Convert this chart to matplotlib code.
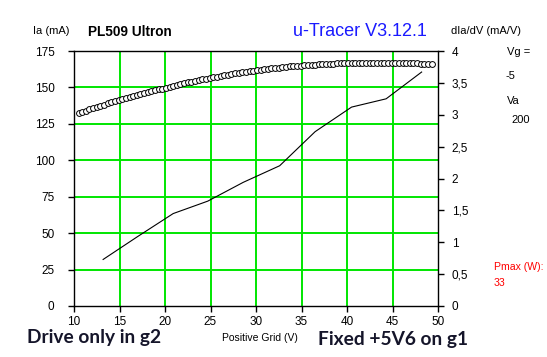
import matplotlib
matplotlib.use("Agg")
import matplotlib.pyplot as plt
from matplotlib.ticker import FixedLocator, FuncFormatter

# ---- data ----
grid_v = [10.5, 10.9, 11.3, 11.7, 12.1, 12.5, 12.9, 13.3, 13.7, 14.1, 14.5, 14.9,
          15.3, 15.7, 16.1, 16.5, 16.9, 17.3, 17.7, 18.1, 18.5, 18.9, 19.3, 19.7,
          20.1, 20.5, 20.9, 21.3, 21.7, 22.1, 22.5, 22.9, 23.3, 23.7, 24.1, 24.5,
          24.9, 25.3, 25.7, 26.1, 26.5, 26.9, 27.3, 27.7, 28.1, 28.5, 28.9, 29.3,
          29.7, 30.1, 30.5, 30.9, 31.3, 31.7, 32.1, 32.5, 32.9, 33.3, 33.7, 34.1,
          34.5, 34.9, 35.3, 35.7, 36.1, 36.5, 36.9, 37.3, 37.7, 38.1, 38.5, 38.9,
          39.3, 39.7, 40.1, 40.5, 40.9, 41.3, 41.7, 42.1, 42.5, 42.9, 43.3, 43.7,
          44.1, 44.5, 44.9, 45.3, 45.7, 46.1, 46.5, 46.9, 47.3, 47.7, 48.1, 48.5,
          48.9, 49.3]
ia_ma = [132.3, 133.2, 134.1, 135.0, 135.8, 136.6, 137.4, 138.2, 139.0, 139.8, 140.6, 141.3,
         142.0, 142.7, 143.4, 144.0, 144.7, 145.3, 146.0, 146.6, 147.3, 147.9, 148.6, 149.2,
         149.9, 150.5, 151.1, 151.7, 152.3, 152.8, 153.4, 153.9, 154.5, 155.0, 155.5, 156.0,
         156.5, 157.0, 157.5, 157.9, 158.4, 158.8, 159.2, 159.6, 160.0, 160.4, 160.8, 161.2,
         161.5, 161.9, 162.2, 162.5, 162.8, 163.1, 163.4, 163.6, 163.9, 164.1, 164.4, 164.6,
         164.8, 165.0, 165.2, 165.4, 165.6, 165.7, 165.9, 166.0, 166.1, 166.3, 166.4, 166.5,
         166.6, 166.7, 166.8, 166.8, 166.9, 166.9, 167.0, 167.0, 167.0, 167.1, 167.1, 167.1,
         167.1, 167.0, 167.0, 167.0, 166.9, 166.9, 166.8, 166.7, 166.6, 166.5, 166.4, 166.3,
         166.1, 166.0]

gm_v = [13.2, 17.0, 20.9, 24.7, 28.6, 32.6, 36.5, 40.5, 44.3, 48.2]
gm_mav = [0.73, 1.09, 1.45, 1.645, 1.94, 2.20, 2.735, 3.12, 3.25, 3.67]

x_ticks = [10, 15, 20, 25, 30, 35, 40, 45, 50]
y_ticks = [0, 25, 50, 75, 100, 125, 150, 175]
y2_ticks = [0, 0.5, 1, 1.5, 2, 2.5, 3, 3.5, 4]

W, H = 547, 357
plt.rcParams['font.family'] = ['Liberation Sans', 'DejaVu Sans']
fig = plt.figure(figsize=(W / 100, H / 100), dpi=100)
fig.patch.set_facecolor('white')

def fx(px):
    return px / W

def fy(py):
    return 1 - py / H

ax = fig.add_axes([74 / W, 51 / H, 364 / W, 255 / H])
ax.set_xlim(10, 50)
ax.set_ylim(0, 175)
ax.xaxis.set_major_locator(FixedLocator(x_ticks))
ax.yaxis.set_major_locator(FixedLocator(y_ticks))
ax.tick_params(axis='both', direction='out', length=4, width=1, labelsize=8.5,
               color='black', pad=3)
ax.tick_params(axis='y', pad=10)
for s in ax.spines.values():
    s.set_color('black')
    s.set_linewidth(1.0)

grn = '#00e600'
for v in x_ticks[1:-1]:
    ax.axvline(v, color=grn, lw=1.4, zorder=1)
for v in y_ticks[1:-1]:
    ax.axhline(v, color=grn, lw=1.4, zorder=1)

ax.plot(grid_v, ia_ma, linestyle='none', marker='o', markersize=4.2,
        markerfacecolor='white', markeredgecolor='black', markeredgewidth=0.7, zorder=3)

ax2 = ax.twinx()
ax2.set_ylim(0, 4)
ax2.yaxis.set_major_locator(FixedLocator(y2_ticks))
ax2.yaxis.set_major_formatter(FuncFormatter(lambda v, p: ('%g' % v).replace('.', ',')))
ax2.tick_params(axis='y', direction='out', length=4, width=1, labelsize=8.5, pad=6)
for s in ax2.spines.values():
    s.set_visible(False)
ax2.plot(gm_v, gm_mav, color='black', lw=0.8, zorder=4)

# texts
fig.text(fx(33), fy(31), 'Ia (mA)', fontsize=8, va='center', ha='left')
fig.text(fx(88), fy(32), 'PL509 Ultron', fontsize=9.8, fontweight='bold', va='center', ha='left')
fig.text(fx(293), fy(31), 'u-Tracer V3.12.1', fontsize=13, color='#1a1aff', va='center', ha='left')
fig.text(fx(451), fy(31), 'dIa/dV (mA/V)', fontsize=8, va='center', ha='left')
fig.text(fx(507), fy(52), 'Vg =', fontsize=8, va='center', ha='left')
fig.text(fx(506), fy(76), '-5', fontsize=8, va='center', ha='left')
fig.text(fx(507), fy(101), 'Va', fontsize=8, va='center', ha='left')
fig.text(fx(511), fy(120), '200', fontsize=8, va='center', ha='left')
fig.text(fx(494), fy(267), 'Pmax (W):', fontsize=7.6, color='#ff0000', va='center', ha='left')
fig.text(fx(494), fy(283), '33', fontsize=7.6, color='#ff0000', va='center', ha='left')
fig.text(fx(260), fy(338), 'Positive Grid (V)', fontsize=7.5, va='center', ha='center')
fig.text(fx(27), fy(337), 'Drive only in g2', fontsize=13.8, fontweight='bold',
         color='#15152a', va='center', ha='left', family=['Lato', 'DejaVu Sans'])
fig.text(fx(318), fy(340), 'Fixed +5V6 on g1', fontsize=13.8, fontweight='bold',
         color='#15152a', va='center', ha='left', family=['Lato', 'DejaVu Sans'])

fig.savefig('out.png', dpi=100, facecolor='white')
